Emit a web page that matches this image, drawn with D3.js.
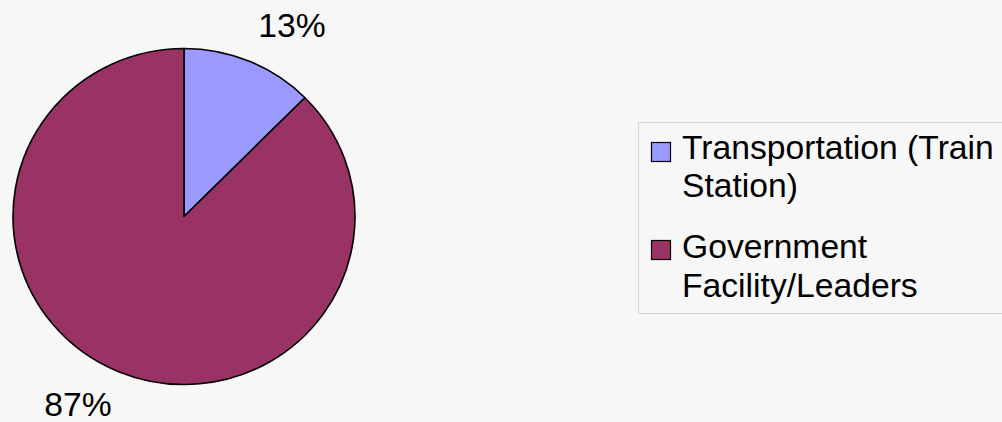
<!DOCTYPE html>
<html><head><meta charset="utf-8">
<script src="https://cdn.jsdelivr.net/npm/d3@7"></script>
<style>
html,body{margin:0;padding:0;background:#f7f7f7;}
svg{display:block;font-family:"Liberation Sans",Arial,sans-serif;}
</style></head>
<body>
<svg id="chart" width="1002" height="422"></svg>
<script>
const categories = ["Transportation (Train Station)", "Government Facility/Leaders"];
const legendLines = [["Transportation (Train", "Station)"], ["Government", "Facility/Leaders"]];
const values = [12.5, 87.5];
const pctLabels = ["13%", "87%"];
const colors = ["#9999ff", "#993366"];

const svg = d3.select("#chart");
const cx = 184, cy = 216.5, rx = 171, ry = 168;
const sx = 1.02;

const pie = d3.pie().sort(null).value(d => d)(values);
const arc = d3.arc().innerRadius(0).outerRadius(rx);

const g = svg.append("g").attr("transform", `translate(${cx},${cy}) scale(1,${ry/rx})`);
g.selectAll("path").data(pie).join("path")
  .attr("d", arc)
  .attr("fill", (d,i) => colors[i])
  .attr("stroke", "#000")
  .attr("stroke-width", 1.6)
  .attr("vector-effect", "non-scaling-stroke")
  .attr("stroke-linejoin", "round");

// percentage labels
const labelPos = [[292, 37], [78, 416]];
svg.selectAll("text.pct").data(pie).join("text")
  .attr("class", "pct")
  .attr("transform", (d,i) => `translate(${labelPos[i][0]},${labelPos[i][1]}) scale(${sx},1)`)
  .attr("text-anchor", "middle")
  .attr("font-size", 33)
  .attr("fill", "#000")
  .text((d,i) => pctLabels[i]);

// legend
svg.append("rect")
  .attr("x", 638.5).attr("y", 122.5).attr("width", 380).attr("height", 191)
  .attr("fill", "#f7f7f7").attr("stroke", "#d6d6d6").attr("stroke-width", 1);

const legendTop = [142, 240];
const baselines = [[159, 197], [258, 297]];
const lg = svg.selectAll("g.leg").data(categories).join("g").attr("class", "leg");
lg.append("rect")
  .attr("x", 651.5).attr("y", (d,i) => legendTop[i] + 0.5)
  .attr("width", 19).attr("height", 19)
  .attr("fill", (d,i) => colors[i])
  .attr("stroke", "#000").attr("stroke-width", 1.2);
lg.each(function(d,i){
  legendLines[i].forEach((line, j) => {
    d3.select(this).append("text")
      .attr("transform", `translate(682,${baselines[i][j]}) scale(${sx},1)`)
      .attr("font-size", 33).attr("fill", "#000")
      .text(line);
  });
});
</script>
</body></html>
